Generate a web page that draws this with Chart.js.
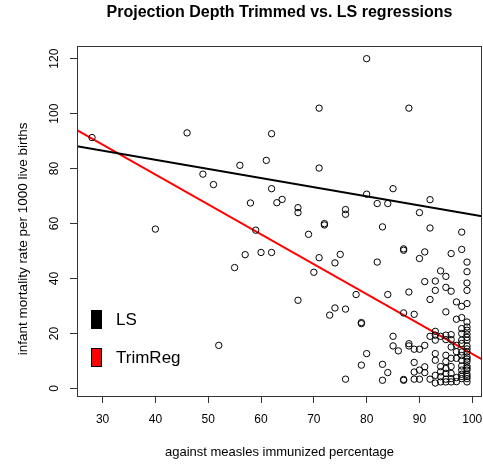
<!DOCTYPE html>
<html>
<head>
<meta charset="utf-8">
<script src="https://cdn.jsdelivr.net/npm/chart.js@4"></script>
<style>
  body { margin: 0; background: #fff; }
  #chart { width: 483px; height: 464px; }
</style>
</head>
<body>
<div id="chart"><canvas id="c" width="483" height="464"></canvas></div>
<script>
// measles immunization (%) and infant mortality (per 1000 live births), one entry per country
const measlesImm = [
  28, 46, 49, 51, 56, 58, 40, 59, 57, 55, 60, 62, 52,
  80, 71, 88, 62, 61, 71, 62, 63, 64, 67, 67, 76, 76, 80, 82, 84, 85, 92, 90, 72, 72, 69, 83, 92, 98,
  71, 75, 74, 70, 82, 87, 87, 90, 91, 96, 98, 99, 94, 95, 99, 91, 93, 99, 95, 96, 93, 88, 99, 84, 78,
  92, 67, 97, 98, 99, 74, 76, 73, 87, 89, 95, 98, 97, 79, 79, 99, 99,
  99, 99, 99, 99, 99, 99, 99, 99, 99, 99, 99, 99, 99, 99, 99, 99, 99,
  98, 98, 98, 98, 98, 98, 98, 98, 98, 98, 98, 98,
  97, 97, 97, 97, 97,
  96, 96, 96, 96, 96, 96, 96, 96,
  95, 95, 95, 95, 95, 95, 95, 95,
  94, 94, 94, 94, 94,
  93, 93, 93, 93, 93, 93, 93,
  92, 92, 91, 91, 91, 90, 90, 90, 89, 89, 89, 89,
  88, 88, 87, 87, 86, 85, 85, 84, 83, 83, 80, 79, 76
];
const infMort = [
  91.3, 93, 78, 74.2, 81.2, 67.5, 58, 57.6, 48.7, 44, 49.5, 49.5, 15.7,
  120, 102, 102, 92.7, 83, 80.2, 72.7, 67.6, 68.8, 65.8, 64, 65.1, 63.4, 70.7, 67.3, 67.3, 72.7, 68.7, 64, 60, 59.5, 56.1, 58.8, 58.4, 56.9,
  47.6, 48.8, 45.7, 42.3, 46, 50.3, 50.8, 47.3, 49.7, 49.1, 50.6, 46, 42.8, 40.8, 42.5, 38.9, 39.1, 38.4, 36.8, 35.4, 35.7, 35.1, 35.7, 34.2, 34.2,
  32.4, 32.1, 31.5, 29.9, 30.9, 29.3, 28.9, 26.7, 27.5, 27, 27.9, 25.8, 25.2, 24, 23.6, 24.2, 22.4,
  21.2, 19.8, 18.6, 17.6, 15.5, 14.4, 13.3, 11.5, 10.7, 9.9, 8.2, 7.4, 6.7, 5.2, 4.4, 3.6, 2.4,
  21.8, 20, 17.6, 16.4, 13.3, 12, 10.3, 8.2, 6.7, 5.2, 4.4, 3.6,
  15.7, 13.4, 11, 4, 2.5,
  19.6, 17.8, 15.1, 11, 8, 5.5, 3.6, 2.4,
  19.4, 17.8, 12.1, 9.8, 7.3, 5.5, 3.4, 2.4,
  19, 8, 6.1, 4.3, 2.4,
  20.8, 19.4, 17.6, 12.7, 10.3, 4.8, 2,
  19, 3.4, 15.7, 7.9, 5.8, 14.3, 6.7, 3.4, 14.3, 9.5, 6, 3.4,
  15.5, 16.3, 3, 3.3, 13.7, 19, 15.5, 5.8, 8.8, 3, 12.7, 8.5, 3.4
];

// regression lines: [intercept, slope]
const lsFit = [96.5, -0.332];
const trimFit = [121.4, -1.088];

const xTicks = [30, 40, 50, 60, 70, 80, 90, 100];
const yTicks = [0, 20, 40, 60, 80, 100, 120];

const yTitle = 'infant mortality rate per 1000 live births';

// R-style axis limits: data range widened by 4% on each side
function padRange(v) {
  const lo = Math.min(...v), hi = Math.max(...v), d = (hi - lo) * 0.04;
  return [lo - d, hi + d];
}
const [xMin, xMax] = padRange(measlesImm);
const [yMin, yMax] = padRange(infMort);

const points = measlesImm.map((x, i) => ({ x: x, y: infMort[i] }));
const fitLine = f => [xMin, xMax].map(x => ({ x: x, y: f[0] + f[1] * x }));

const FONT = "'Liberation Sans', Arial, sans-serif";

// box around the plot region
const boxPlugin = {
  id: 'box',
  afterDraw(chart) {
    const { ctx, chartArea: a } = chart;
    ctx.save();
    ctx.strokeStyle = '#333';
    ctx.lineWidth = 1;
    ctx.strokeRect(Math.round(a.left) + 0.5, Math.round(a.top) + 0.5,
      Math.round(a.right - a.left) - 1, Math.round(a.bottom - a.top));
    ctx.restore();
  }
};

// vertical y-axis label, sits a little below the middle of the plot
const yTitlePlugin = {
  id: 'yTitle',
  afterDraw(chart) {
    const { ctx, chartArea: a } = chart;
    ctx.save();
    ctx.translate(23, (a.top + a.bottom) / 2 + 18);
    ctx.rotate(-Math.PI / 2);
    ctx.font = '13.5px ' + FONT;
    ctx.fillStyle = '#000';
    ctx.textAlign = 'center';
    ctx.textBaseline = 'middle';
    ctx.fillText(yTitle, 0, 0);
    ctx.restore();
  }
};

// filled-box legend in the bottom-left corner
const legendPlugin = {
  id: 'boxLegend',
  afterDraw(chart) {
    const { ctx, chartArea: a } = chart;
    const items = chart.data.datasets.filter(d => d.type === 'line');
    ctx.save();
    ctx.font = '17px ' + FONT;
    ctx.textBaseline = 'middle';
    items.forEach((d, i) => {
      const y = a.bottom - 86 + i * 38;
      ctx.fillStyle = d.borderColor;
      ctx.fillRect(a.left + 14, y, 11, 19);
      ctx.strokeStyle = '#000';
      ctx.lineWidth = 1;
      ctx.strokeRect(a.left + 14.5, y + 0.5, 10, 18);
      ctx.fillStyle = '#000';
      ctx.fillText(d.label, a.left + 39, y + 10);
    });
    ctx.restore();
  }
};

new Chart(document.getElementById('c'), {
  type: 'scatter',
  data: {
    datasets: [
      {
        label: 'countries',
        data: points,
        pointRadius: 3.2,
        pointHoverRadius: 3.2,
        pointBorderWidth: 1,
        borderColor: '#000',
        backgroundColor: 'rgba(0,0,0,0)'
      },
      {
        type: 'line',
        label: 'LS',
        data: fitLine(lsFit),
        borderColor: '#000',
        borderWidth: 2,
        pointRadius: 0,
        fill: false
      },
      {
        type: 'line',
        label: 'TrimReg',
        data: fitLine(trimFit),
        borderColor: '#ff0000',
        borderWidth: 2,
        pointRadius: 0,
        fill: false
      }
    ]
  },
  options: {
    responsive: false,
    animation: false,
    layout: { autoPadding: false, padding: { left: 0, right: 1, top: 0, bottom: 0 } },
    plugins: {
      legend: { display: false },
      tooltip: { enabled: false },
      title: {
        display: true,
        fullSize: false,
        text: 'Projection Depth Trimmed vs. LS regressions',
        color: '#000',
        font: { family: FONT, size: 16, weight: 'bold' },
        padding: { top: 2.9, bottom: 23.6 }
      }
    },
    scales: {
      x: {
        type: 'linear',
        min: xMin,
        max: xMax,
        afterBuildTicks: s => { s.ticks = xTicks.map(v => ({ value: v })); },
        afterFit: s => { s.height = 68; s.paddingLeft = 0; s.paddingRight = 0; },
        border: { display: false },
        grid: { drawOnChartArea: false, drawTicks: true, tickLength: 7, color: '#333' },
        ticks: { color: '#000', font: { family: FONT, size: 12 }, padding: 9.5, maxRotation: 0 },
        title: {
          display: true,
          text: 'against measles immunized percentage',
          color: '#000',
          font: { family: FONT, size: 13 },
          padding: { top: 0, bottom: 4 }
        }
      },
      y: {
        type: 'linear',
        min: yMin,
        max: yMax,
        afterBuildTicks: s => { s.ticks = yTicks.map(v => ({ value: v })); },
        afterFit: s => { s.width = 77; s.paddingTop = 0; s.paddingBottom = 0; },
        border: { display: false },
        grid: { drawOnChartArea: false, drawTicks: true, tickLength: 7, color: '#333' },
        ticks: { color: '#000', font: { family: FONT, size: 12 }, padding: 5, minRotation: 90, maxRotation: 90, crossAlign: 'center' },
        title: { display: false }
      }
    }
  },
  plugins: [boxPlugin, yTitlePlugin, legendPlugin]
});
</script>
</body>
</html>
